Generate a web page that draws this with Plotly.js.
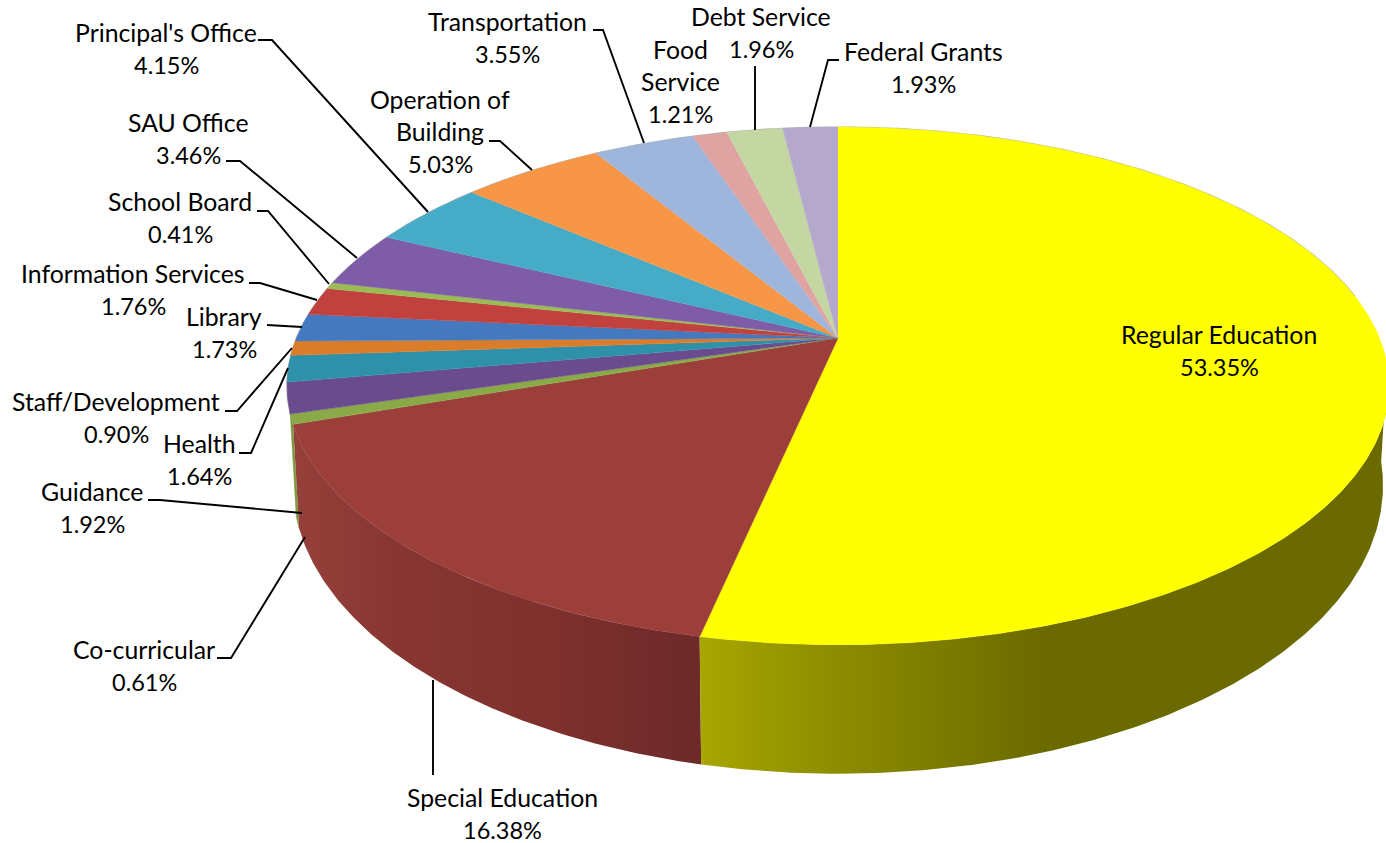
<!DOCTYPE html>
<html>
<head>
<meta charset="utf-8">
<script src="https://cdn.plot.ly/plotly-3.0.1.min.js"></script>
<style>html,body{margin:0;padding:0;background:#fff}#chart{width:1386px;height:843px}</style>
</head>
<body>
<div id="chart"></div>
<script>
// Budget shares, clockwise from twelve o'clock.
const categories = ["Regular Education","Special Education","Co-curricular","Guidance","Health",
  "Staff/Development","Library","Information Services","School Board","SAU Office",
  "Principal's Office","Operation of Building","Transportation","Food Service","Debt Service","Federal Grants"];
const shares = [53.35,16.38,0.61,1.92,1.64,0.90,1.73,1.76,0.41,3.46,4.15,5.03,3.55,1.21,1.96,1.93];

// Label wrapping, and where each label block sits.
const labelLines = [["Regular Education"],["Special Education"],["Co-curricular"],["Guidance"],["Health"],
  ["Staff/Development"],["Library"],["Information Services"],["School Board"],["SAU Office"],
  ["Principal's Office"],["Operation of","Building"],["Transportation"],["Food","Service"],["Debt Service"],["Federal Grants"]];
const labelX = [1219,502,144,92,199,116,224,133,180,188,166,440,507,680,761,923];
const labelY = [334,797,649,491,443,401,316,273,201,122,32,99,21,49,16,51];
const lineStep = 32.5;

// Leader lines as x/y runs; Regular Education and Food Service have none.
const leaderX = [null,[433,433],[217,231,305],[148,160,302],[239,251,288],[225,237,292],[267,285,302],
  [249,260,317],[257,268,329],[226,240,357],[258,272,428],[489,500,532],[593,603,644],null,[755,755],[839,828,810]];
const leaderY = [null,[775,680],[658,658,537],[500,500,513],[453,453,368],[411,411,348],[325,326,327],
  [283,283,300],[211,211,284],[161,161,258],[40,40,212],[141,141,170],[30,30,143],null,[66,130],[60,60,127]];

const topColors = ["#FFFF00","#9C3F3A","#8AAA48","#6A4C8E","#2E90A9","#DA7D2A","#4479C0","#C0413E",
  "#9BBB55","#7F5CA8","#46ABC7","#F79646","#9FB6DC","#DFA3A2","#C4D6A2","#B4A8CC"];
const sideColors = ["#6A6A00","#83322E","#7C9A40"];
const yellowRamp = [[0,"#AAA600"],[0.05,"#A0A000"],[0.2,"#8C8C00"],[0.5,"#6A6A00"],[1,"#6A6A00"]];
const redRamp = [[0,"#96403A"],[0.25,"#883632"],[0.65,"#7E302D"],[1,"#6C2A2A"]];

// Perspective disc: the hub is off-centre because the rear of the disc recedes.
const tilt = 0.185;
const upperDisc = {cx:838, cy:338, a:541.5, h:250};
const lowerDisc = {cx:838, cy:432, a:535.6, h:278.5};
function project(disc, deg) {
  const r = deg * Math.PI / 180, X = Math.sin(r), Y = Math.cos(r), w = 1 + tilt * Y;
  return [disc.cx + disc.a * X / w, disc.cy - disc.h * Y / w];
}
function arc(disc, from, to) {
  const n = Math.max(2, Math.ceil(Math.abs(to - from) * 2)), pts = [];
  for (let i = 0; i <= n; i++) pts.push(project(disc, from + (to - from) * i / n));
  return pts;
}

const total = shares.reduce((s, v) => s + v, 0);
let running = 0;
const spans = shares.map(v => {
  const span = [running / total * 360, (running + v) / total * 360];
  running += v;
  return span;
});

const traces = [];
// Outer walls: only the three front slices show one.
for (let i = 2; i >= 0; i--) {
  const from = i === 0 ? 96 : spans[i][0];
  const to = spans[i][1];
  const pts = arc(upperDisc, from, to).concat(arc(lowerDisc, to, from));
  const t = {
    x: pts.map(p => p[0]), y: pts.map(p => p[1]), mode: "lines", fill: "toself",
    line: {color: sideColors[i], width: i === 2 ? 0.5 : 0}, fillcolor: sideColors[i],
    hoverinfo: "skip", showlegend: false
  };
  if (i === 0) t.fillgradient = {type: "horizontal", colorscale: yellowRamp};
  if (i === 1) t.fillgradient = {type: "horizontal", colorscale: redRamp};
  traces.push(t);
}
// Faint edge along the rear of the disc.
const rearEdge = arc(upperDisc, 253, 440);
traces.push({x: rearEdge.map(p => p[0]), y: rearEdge.map(p => p[1]), mode: "lines",
  line: {color: "#B4B4B4", width: 1.4}, hoverinfo: "skip", showlegend: false});
// Top faces.
spans.forEach((span, i) => {
  const pts = [[upperDisc.cx, upperDisc.cy]].concat(arc(upperDisc, span[0], span[1]));
  traces.push({
    x: pts.map(p => p[0]), y: pts.map(p => p[1]), mode: "lines", fill: "toself",
    line: {color: topColors[i], width: 0.5}, fillcolor: topColors[i],
    name: categories[i], text: shares[i].toFixed(2) + "%", hoverinfo: "name+text", showlegend: false
  });
});
// Leader lines.
leaderX.forEach((xs, i) => {
  if (!xs) return;
  traces.push({x: xs, y: leaderY[i], mode: "lines", line: {color: "#000", width: 1.9},
    hoverinfo: "skip", showlegend: false});
});

// One annotation per text line keeps the line spacing under control.
const annotations = [];
categories.forEach((c, i) => {
  const lines = labelLines[i].concat([shares[i].toFixed(2) + "%"]);
  lines.forEach((line, j) => {
    annotations.push({
      x: labelX[i], y: labelY[i] + j * lineStep, xref: "x", yref: "y", text: line, showarrow: false,
      xanchor: "center", yanchor: "middle",
      font: {family: "Lato, 'Open Sans', sans-serif", size: j === lines.length - 1 ? 23.5 : 24.8, color: "#000"}
    });
  });
});

const hidden = {visible: false, fixedrange: true};
Plotly.newPlot("chart", traces, {
  width: 1386, height: 843,
  margin: {l: 0, r: 0, t: 0, b: 0},
  paper_bgcolor: "#fff", plot_bgcolor: "#fff",
  xaxis: Object.assign({range: [0, 1386]}, hidden),
  yaxis: Object.assign({range: [843, 0]}, hidden),
  annotations: annotations
}, {displayModeBar: false});
</script>
</body>
</html>
